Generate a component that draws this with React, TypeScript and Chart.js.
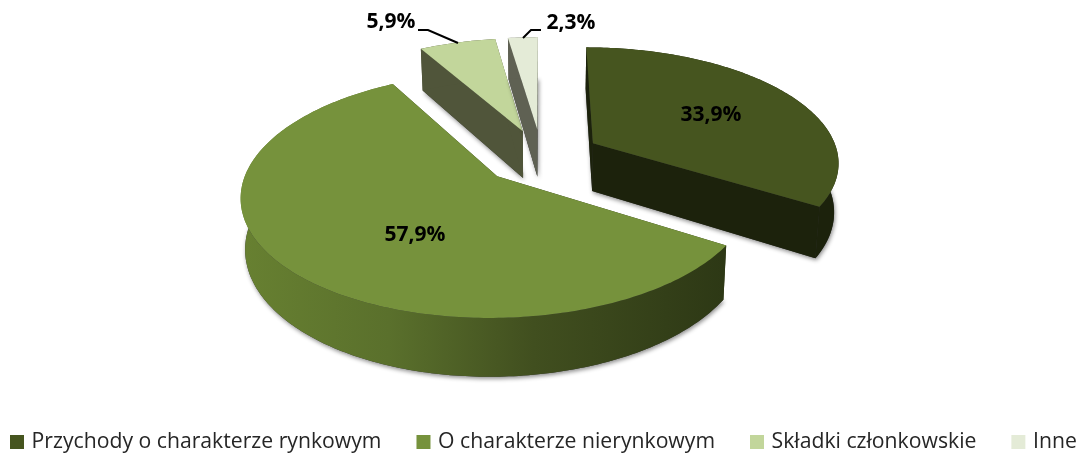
import React, { useEffect, useRef } from "react";
import { Chart, registerables } from "chart.js";

Chart.register(...registerables);

const categories = ["Przychody o charakterze rynkowym", "O charakterze nierynkowym", "Składki członkowskie", "Inne"];
const shares = [33.9, 57.9, 5.9, 2.3];
const topColors = ["#46551f", "#76923c", "#c2d69b", "#e4ebd7"];

const CX = 541.5, CY = 156.5, AX = 246, AY = 114, K = 0.15, EXPLODE = 0.243, DEPTH = 48.5, BOTTOM_SCALE = 0.985;
const FONT_FAMILY = '"Open Sans", sans-serif';
const LEGEND_GAP = 38, LEGEND_FONT = 21.2, LEGEND_X = 13, LEGEND_Y = 442;

const project = (U: number, V: number, low: boolean) => {
  const w = 1 - K * V;
  const x = AX * U / w;
  const y = AY * V / w;
  return low ? [CX + x * BOTTOM_SCALE, CY + y + DEPTH / w] : [CX + x, CY + y];
};

const fillPoly = (ctx: CanvasRenderingContext2D, pts: number[][], fill: any) => {
  ctx.beginPath();
  pts.forEach((p, i) => (i ? ctx.lineTo(p[0], p[1]) : ctx.moveTo(p[0], p[1])));
  ctx.closePath();
  ctx.fillStyle = fill;
  ctx.fill();
};

const slice3d = {
  id: "slice3d",
  beforeUpdate(chart: any) {
    const legend = chart.legend;
    if (legend && !legend.__oneRow) {
      legend.__oneRow = true;
      const fitRows = legend._fitRows;
      legend._fitRows = function (...args: any[]) {
        const keep = this.maxWidth;
        this.maxWidth = 5000;
        const result = fitRows.apply(this, args);
        this.maxWidth = keep;
        return result;
      };
    }
  },
  afterLayout(chart: any) {
    const legend = chart.legend;
    legend.left = LEGEND_X - LEGEND_GAP;
    legend.right = 5000;
    legend.top = LEGEND_Y - LEGEND_GAP - LEGEND_FONT / 2;
  },
  beforeDatasetDraw(chart: any) {
    const ctx: CanvasRenderingContext2D = chart.ctx;
    const arcs = chart.getDatasetMeta(0).data;
    const greenWall = ctx.createLinearGradient(245, 0, 725, 0);
    greenWall.addColorStop(0, "#678031");
    greenWall.addColorStop(0.3, "#5a702c");
    greenWall.addColorStop(0.6, "#414f1f");
    greenWall.addColorStop(1, "#2d3815");
    const radialWall = ["#1c220c", "#2d3815", "#50553a", "#5f6153"];
    const rimWall = ["#1c220c", greenWall, "#50553a", "#5f6153"];
    [2, 3, 0, 1].forEach((i) => {
      const arc = arcs[i];
      const a0 = arc.startAngle, a1 = arc.endAngle, mid = (a0 + a1) / 2;
      const ou = EXPLODE * Math.cos(mid), ov = EXPLODE * Math.sin(mid);
      const steps = Math.max(4, Math.ceil((a1 - a0) * 60));
      const rim: number[][] = [];
      for (let s = 0; s <= steps; s++) {
        const a = a0 + ((a1 - a0) * s) / steps;
        rim.push([ou + Math.cos(a), ov + Math.sin(a)]);
      }
      const top = rim.map((p) => project(p[0], p[1], false));
      const low = rim.map((p) => project(p[0], p[1], true));
      const apexT = project(ou, ov, false), apexL = project(ou, ov, true);
      const walls: [number[][], any][] = [
        [[apexT, top[0], low[0], apexL], radialWall[i]],
        [[apexT, top[steps], low[steps], apexL], radialWall[i]],
        [[...top, ...low.slice().reverse()], rimWall[i]],
      ];
      ctx.save();
      ctx.shadowColor = "rgba(0,0,0,0.45)";
      ctx.shadowBlur = 4;
      ctx.shadowOffsetX = 1;
      ctx.shadowOffsetY = 2;
      fillPoly(ctx, [apexL, ...low], "#333");
      ctx.restore();
      walls.forEach(([p, f]) => fillPoly(ctx, p, f));
      fillPoly(ctx, [apexT, ...top], arc.options.backgroundColor);
    });
    return false;
  },
  afterDatasetsDraw(chart: any) {
    const ctx: CanvasRenderingContext2D = chart.ctx;
    const spots = [[711, 115], [415, 235], [391, 22], [571, 23]];
    ctx.save();
    ctx.fillStyle = "#000";
    ctx.font = `bold 21px ${FONT_FAMILY}`;
    ctx.textAlign = "center";
    ctx.textBaseline = "middle";
    shares.forEach((v, i) => ctx.fillText(`${v.toFixed(1).replace(".", ",")}%`, spots[i][0], spots[i][1]));
    ctx.strokeStyle = "#000";
    ctx.lineWidth = 2;
    [[[418, 30], [428, 30], [458, 43]], [[541, 30], [531, 30], [523, 38]]].forEach((l) => {
      ctx.beginPath();
      l.forEach((p, i) => (i ? ctx.lineTo(p[0], p[1]) : ctx.moveTo(p[0], p[1])));
      ctx.stroke();
    });
    ctx.restore();
  },
};

export default function App() {
  const ref = useRef<HTMLCanvasElement>(null);
  useEffect(() => {
    document.body.style.margin = "0";
    const chart = new Chart(ref.current as HTMLCanvasElement, {
      type: "pie",
      data: {
        labels: categories,
        datasets: [{ data: shares, backgroundColor: topColors, borderWidth: 0 }],
      },
      options: {
        responsive: false,
        animation: false,
        plugins: {
          tooltip: { enabled: false },
          legend: {
            position: "bottom",
            align: "start",
            labels: {
              boxWidth: 8,
              boxHeight: 8,
              padding: LEGEND_GAP,
              color: "#262626",
              font: { family: FONT_FAMILY, size: LEGEND_FONT },
              generateLabels: (c: any) =>
                (Chart as any).overrides.pie.plugins.legend.labels
                  .generateLabels(c)
                  .map((item: any) => ({ ...item, lineWidth: 6, strokeStyle: item.fillStyle })),
            },
          },
        },
      },
      plugins: [slice3d],
    } as any);
    return () => chart.destroy();
  }, []);
  return <canvas ref={ref} width={1076} height={453} style={{ display: "block" }} />;
}
